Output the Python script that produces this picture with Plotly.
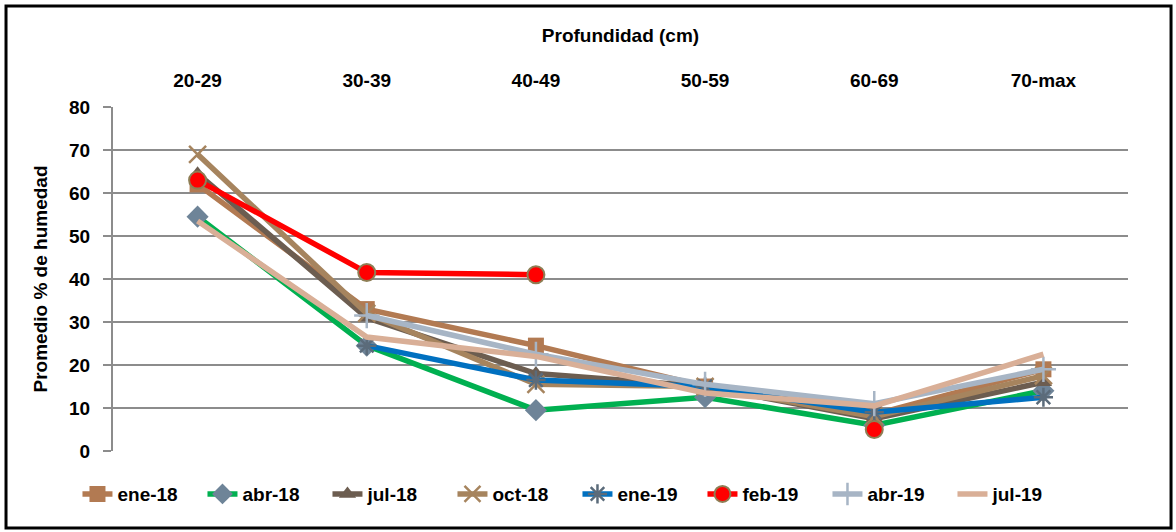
import plotly.graph_objects as go

# Depth classes (cm)
depths = ["20-29", "30-39", "40-49", "50-59", "60-69", "70-max"]

# Average soil moisture (%) per sampling date
ene_18 = [62, 33, 24.5, 15, 8.5, 19]
abr_18 = [54.5, 24.5, 9.5, 12.5, 6, 14]
jul_18 = [64.5, 31, 18, 15, 7.5, 16]
oct_18 = [69, 32, 15.5, 15, 8, 17.5]
ene_19 = [None, 24.5, 16.5, 15, 9, 12.5]
feb_19 = [63, 41.5, 41, None, 5, None]
abr_19 = [None, 31.5, 22.5, 15.5, 11, 19]
jul_19 = [53.5, 26.5, 22, 13.5, 10.5, 22.5]

series = [
    ("ene-18", ene_18, "#B27A52", dict(symbol="square", size=16, color="#B27A52")),
    ("abr-18", abr_18, "#00B050", dict(symbol="diamond", size=17, color="#6E8498")),
    ("jul-18", jul_18, "#6C5D50", dict(symbol="triangle-up", size=15, color="#6C5D50")),
    ("oct-18", oct_18, "#A6845E", dict(symbol="x-thin-open", size=17, color="#A6845E",
                                        line=dict(color="#A6845E", width=2.5))),
    ("ene-19", ene_19, "#0070C0", dict(symbol="asterisk-open", size=16, color="#5B6B7A",
                                        line=dict(color="#5B6B7A", width=2.5))),
    ("feb-19", feb_19, "#FF0000", dict(symbol="circle", size=17, color="#FF0000",
                                        line=dict(color="#8E7E55", width=2))),
    ("abr-19", abr_19, "#A7B5C5", dict(symbol="cross-thin-open", size=18, color="#A7B5C5",
                                        line=dict(color="#A7B5C5", width=2.5))),
    ("jul-19", jul_19, "#D9AF97", None),
]

FONT = "Liberation Sans Narrow, Arial Narrow, Liberation Sans, Arial, sans-serif"
GRID = "#8C8C8C"

x_pos = list(range(len(depths)))

fig = go.Figure()
for name, vals, color, marker in series:
    kwargs = dict(
        x=x_pos, y=vals, name=name, xaxis="x2", yaxis="y",
        line=dict(color=color, width=5.5),
        connectgaps=False,
    )
    if marker is None:
        kwargs["mode"] = "lines"
    else:
        kwargs["mode"] = "lines+markers"
        kwargs["marker"] = marker
    fig.add_trace(go.Scatter(**kwargs))

x_range = [-0.5, len(depths) - 0.5]

fig.update_layout(
    width=1176, height=532,
    margin=dict(l=113, r=48, t=107, b=81, autoexpand=False),
    paper_bgcolor="white", plot_bgcolor="white",
    font=dict(family=FONT, size=18, color="#000000"),
    # bottom axis: line with ticks at class boundaries
    xaxis=dict(
        range=x_range, tickvals=[i - 0.5 for i in range(len(depths) + 1)],
        showticklabels=False, ticks="outside", ticklen=7, tickwidth=2,
        tickcolor=GRID, showline=True, linecolor=GRID, linewidth=2,
        showgrid=False, zeroline=False, anchor="y",
    ),
    # top axis: class labels and title
    xaxis2=dict(
        range=x_range, overlaying="x", side="top", anchor="y",
        tickvals=x_pos, ticktext=depths, ticks="", showline=False,
        showgrid=False, zeroline=False, ticklabelstandoff=15,
        tickfont=dict(family=FONT, size=19, color="#000000", weight="bold"),
        title=dict(text="<b>Profundidad (cm)</b>", standoff=22,
                   font=dict(family=FONT, size=19, color="#000000")),
    ),
    yaxis=dict(
        range=[0, 80], dtick=10, showgrid=True, gridcolor=GRID, gridwidth=2,
        ticks="outside", ticklen=8, tickwidth=2, tickcolor=GRID,
        showline=True, linecolor=GRID, linewidth=2, zeroline=False,
        side="left", ticklabelstandoff=9,
        tickfont=dict(family=FONT, size=19, color="#000000", weight="bold"),
        title=dict(text="<b>Promedio % de humedad</b>", standoff=16,
                   font=dict(family=FONT, size=19, color="#000000")),
    ),
    legend=dict(
        orientation="h", x=-0.035, xanchor="left",
        y=-0.07, yanchor="top",
        font=dict(family=FONT, size=19, color="#000000", weight="bold"),
        entrywidth=80, entrywidthmode="pixels",
        tracegroupgap=0, bgcolor="rgba(0,0,0,0)",
    ),
    shapes=[dict(
        type="rect", xref="paper", yref="paper",
        x0=-0.1054, x1=1.0424, y0=-0.2238, y1=1.2936,
        line=dict(color="#000000", width=3), fillcolor="rgba(0,0,0,0)",
        layer="below",
    )],
)

fig.write_html("out.html")
